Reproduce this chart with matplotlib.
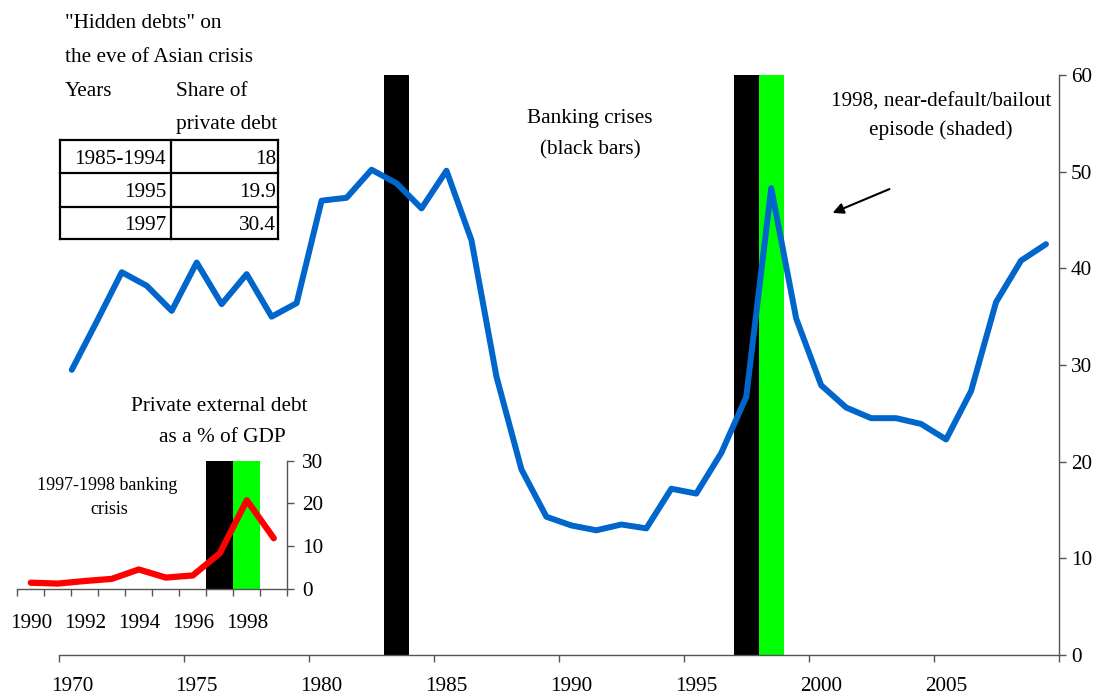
import matplotlib
matplotlib.use("Agg")
import matplotlib.pyplot as plt

W, H = 1099, 698

# Private external debt as % of GDP, one value per year
years = list(range(1970, 2010))
debt_gdp = [29.5, 34.5, 39.6, 38.2, 35.6, 40.6, 36.3, 39.4, 35.0, 36.4,
            47.0, 47.3, 50.2, 48.8, 46.2, 50.1, 42.9, 28.8, 19.2, 14.3,
            13.4, 12.9, 13.5, 13.1, 17.2, 16.7, 20.9, 26.7, 48.3, 34.8,
            27.9, 25.6, 24.5, 24.5, 23.9, 22.3, 27.3, 36.5, 40.8, 42.5]
banking_crisis_years = [1983, 1997]
bailout_years = [1998]
bar_top = 60

# small panel: 1990s only
inset_years = list(range(1990, 2000))
inset_debt = [1.4, 1.2, 1.8, 2.3, 4.5, 2.6, 3.1, 8.3, 20.7, 11.8]
inset_crisis_years = [1997]
inset_bailout_years = [1998]
inset_bar_top = 30

table_periods = ["1985-1994", "1995", "1997"]
table_shares = ["18", "19.9", "30.4"]

main_tick_years = [1970, 1975, 1980, 1985, 1990, 1995, 2000, 2005, 2010]
main_label_years = [1970, 1975, 1980, 1985, 1990, 1995, 2000, 2005]
main_yticks = [0, 10, 20, 30, 40, 50, 60]
inset_tick_years = list(range(1990, 2001))
inset_label_years = [1990, 1992, 1994, 1996, 1998]
inset_yticks = [0, 10, 20, 30]

BLUE = "#0066CC"
GREEN = "#00FF00"
RED = "#FF0000"
AXIS = "#555555"

plt.rcParams["font.family"] = ["Liberation Serif", "DejaVu Serif"]
plt.rcParams["font.size"] = 15.3


def px(x, y):
    """pixel position (from top-left) -> figure fraction"""
    return x / W, 1 - y / H


def box(x0, y0, x1, y1):
    return [x0 / W, 1 - y1 / H, (x1 - x0) / W, (y1 - y0) / H]


def style_axes(ax, tick_len):
    for side in ("top", "left"):
        ax.spines[side].set_visible(False)
    for side in ("right", "bottom"):
        ax.spines[side].set_color(AXIS)
        ax.spines[side].set_linewidth(1.0)
    ax.yaxis.tick_right()
    ax.tick_params(axis="both", which="major", direction="out",
                   length=tick_len, width=1.0, color=AXIS)
    ax.tick_params(axis="x", which="minor", length=0)


fig = plt.figure(figsize=(W / 100, H / 100), dpi=100)

# ---- main chart ----
ax = fig.add_axes(box(59.3, 75, 1058.5, 655))
ax.set_facecolor("none")
ax.set_xlim(1970, 2010)
ax.set_ylim(0, 60)
ax.bar(banking_crisis_years, [bar_top] * len(banking_crisis_years), width=1,
       align="edge", color="black", zorder=1)
ax.bar(bailout_years, [bar_top] * len(bailout_years), width=1,
       align="edge", color=GREEN, zorder=1)
ax.plot([y + 0.5 for y in years], debt_gdp, color=BLUE, lw=4.3,
        solid_joinstyle="round", solid_capstyle="round", zorder=3)

style_axes(ax, 5)
ax.set_xticks(main_tick_years)
ax.set_xticklabels([])
ax.set_xticks([y + 0.5 for y in main_label_years], [str(y) for y in main_label_years],
              minor=True)
ax.tick_params(axis="x", which="minor", pad=16)
ax.set_yticks(main_yticks)
ax.tick_params(axis="y", pad=4)

fig.text(*px(590, 119), "Banking crises", ha="center", va="center")
fig.text(*px(590, 150), "(black bars)", ha="center", va="center")
fig.text(*px(941, 102), "1998, near-default/bailout", ha="center", va="center")
fig.text(*px(941, 130), "episode (shaded)", ha="center", va="center")
fig.add_artist(matplotlib.patches.FancyArrowPatch(
    px(892, 188), px(830, 214), transform=fig.transFigure,
    arrowstyle="-|>", mutation_scale=16, color="black", lw=1.5))

# ---- inset: 1990s ----
ai = fig.add_axes(box(17.3, 460.5, 287.3, 588.7))
ai.set_facecolor("none")
ai.set_xlim(1990, 2000)
ai.set_ylim(0, 30)
ai.bar(inset_crisis_years, [inset_bar_top] * len(inset_crisis_years), width=1,
       align="edge", color="black", zorder=1)
ai.bar(inset_bailout_years, [inset_bar_top] * len(inset_bailout_years), width=1,
       align="edge", color=GREEN, zorder=1)
ai.plot([y + 0.5 for y in inset_years], inset_debt, color=RED, lw=4.5,
        solid_joinstyle="round", solid_capstyle="round", zorder=3)

style_axes(ai, 4.8)
ai.set_xticks(inset_tick_years)
ai.set_xticklabels([])
ai.set_xticks([y + 0.5 for y in inset_label_years], [str(y) for y in inset_label_years],
              minor=True)
ai.tick_params(axis="x", which="minor", pad=18)
ai.set_yticks(inset_yticks)
ai.tick_params(axis="y", pad=6)

fig.text(*px(219, 407), "Private external debt", ha="center", va="center")
fig.text(*px(222, 437), "as a % of GDP", ha="center", va="center")
fig.text(*px(107, 485), "1997-1998 banking", ha="center", va="center", fontsize=13)
fig.text(*px(109, 510), "crisis", ha="center", va="center", fontsize=13)

# ---- hidden-debts table ----
fig.text(*px(65, 23), '"Hidden debts" on', ha="left", va="center")
fig.text(*px(65, 57), "the eve of Asian crisis", ha="left", va="center")
fig.text(*px(65, 91), "Years", ha="left", va="center")
fig.text(*px(175.7, 91), "Share of", ha="left", va="center")
fig.text(*px(175.7, 125), "private debt", ha="left", va="center")

row_edges = [140, 173.3, 207.3, 239.3]
col_left, col_mid, col_right = 60, 171, 278.3
tab_kw = dict(color="black", lw=1.6, transform=fig.transFigure)
for y in row_edges:
    fig.add_artist(plt.Line2D([col_left / W, col_right / W], [1 - y / H] * 2, **tab_kw))
for x in (col_left, col_mid, col_right):
    fig.add_artist(plt.Line2D([x / W] * 2, [1 - row_edges[0] / H, 1 - row_edges[-1] / H],
                              **tab_kw))
for i, (period, share) in enumerate(zip(table_periods, table_shares)):
    yc = (row_edges[i] + row_edges[i + 1]) / 2
    fig.text(*px(col_mid - 5, yc), period, ha="right", va="center_baseline")
    fig.text(*px(col_right - 2, yc), share, ha="right", va="center_baseline")

fig.savefig("out.png", dpi=100)
